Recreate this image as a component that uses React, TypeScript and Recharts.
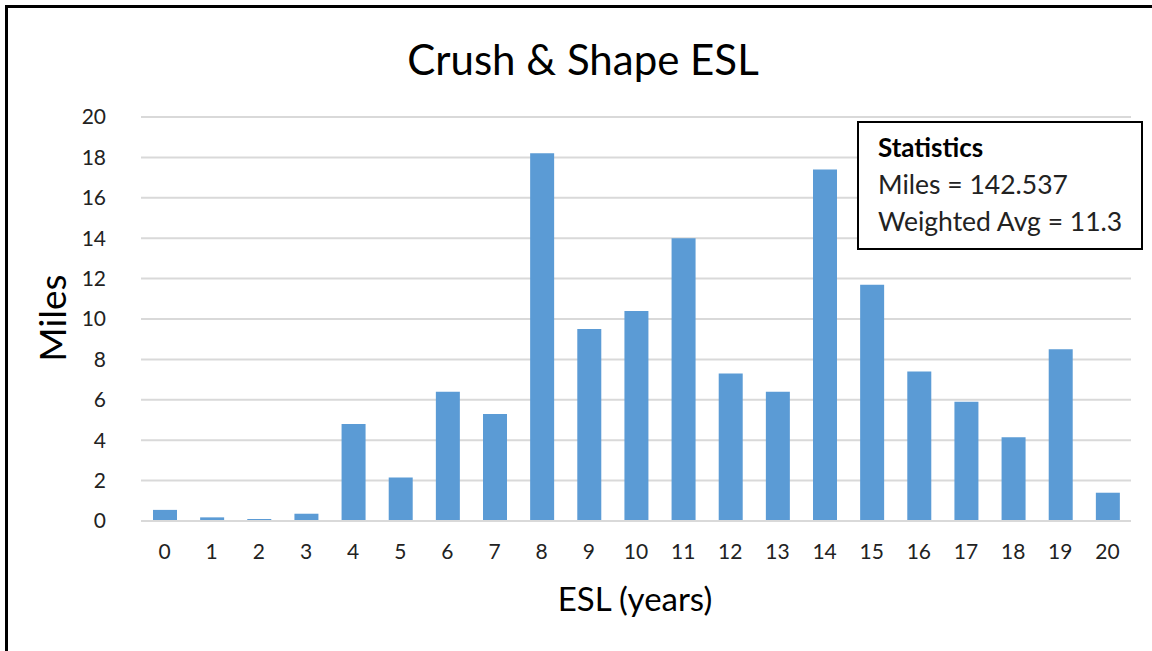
import { BarChart, Bar, XAxis, YAxis, CartesianGrid } from "recharts";

const years = ["0", "1", "2", "3", "4", "5", "6", "7", "8", "9", "10", "11", "12", "13", "14", "15", "16", "17", "18", "19", "20"];
const miles = [0.55, 0.18, 0.1, 0.36, 4.8, 2.15, 6.4, 5.3, 18.2, 9.5, 10.4, 14.0, 7.3, 6.4, 17.4, 11.7, 7.4, 5.9, 4.15, 8.5, 1.4];
const yTicks = [0, 2, 4, 6, 8, 10, 12, 14, 16, 18, 20];
const statLines = ["Miles = 142.537", "Weighted Avg = 11.3"];

const data = years.map((y, i) => ({ esl: y, miles: miles[i] }));

const font = "Lato, 'Open Sans', sans-serif";

export default function App() {
  return (
    <div style={{ position: "absolute", left: 0, top: 0, width: 1152, height: 651, background: "#fff", overflow: "hidden" }}>
      {/* frame: only top and left edges show */}
      <div style={{ position: "absolute", left: 5, top: 5, width: 1147, height: 3, background: "#000" }} />
      <div style={{ position: "absolute", left: 5, top: 5, width: 3, height: 646, background: "#000" }} />

      <div style={{ position: "absolute", left: 0, top: 0, width: 1152, height: 651 }}>
        <BarChart
          width={1152}
          height={651}
          data={data}
          margin={{ top: 117, right: 21, left: 41, bottom: 90 }}
        >
          <CartesianGrid vertical={false} stroke="#d9d9d9" strokeWidth={2} />
          <XAxis
            dataKey="esl"
            height={40}
            tickLine={false}
            tickSize={0}
            tickMargin={23}
            axisLine={{ stroke: "#d9d9d9", strokeWidth: 2 }}
            tick={{ fill: "#222", fontSize: 21, fontFamily: font }}
            interval={0}
          />
          <YAxis
            width={100}
            domain={[0, 20]}
            ticks={yTicks}
            tickLine={false}
            axisLine={false}
            tickSize={0}
            tickMargin={35}
            tick={{ fill: "#222", fontSize: 21, fontFamily: font }}
          />
          <Bar dataKey="miles" fill="#5b9bd5" barSize={24} isAnimationActive={false} />
        </BarChart>
      </div>

      <svg width={1152} height={651} style={{ position: "absolute", left: 0, top: 0, pointerEvents: "none" }}>
        <text x={583} y={75} textAnchor="middle" fontFamily={font} fontSize={42} fill="#000">
          Crush &amp; Shape ESL
        </text>
        <text x={66} y={318} textAnchor="middle" fontFamily={font} fontSize={37} fill="#000" transform="rotate(-90 66 318)">
          Miles
        </text>
        <text x={635} y={611} textAnchor="middle" fontFamily={font} fontSize={33} fill="#000">
          ESL (years)
        </text>

        <rect x={858} y={122} width={284} height={127} fill="#fff" stroke="#000" strokeWidth={2} />
        <text x={878} y={157} fontFamily={font} fontSize={26} fontWeight="bold" fill="#000">
          Statistics
        </text>
        {statLines.map((s, i) => (
          <text key={s} x={878} y={194 + i * 37} fontFamily={font} fontSize={26.5} fill="#222">
            {s}
          </text>
        ))}
      </svg>
    </div>
  );
}
